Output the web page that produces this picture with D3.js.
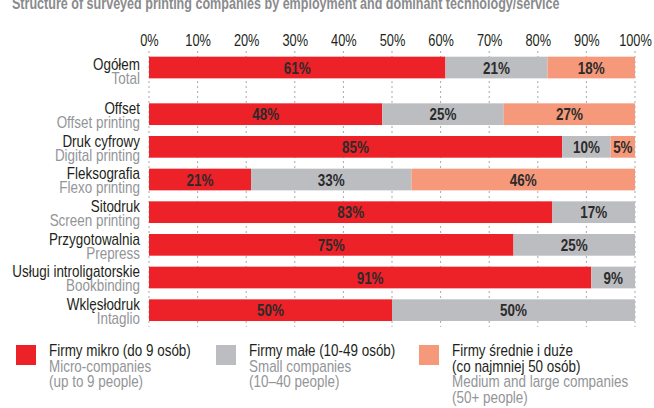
<!DOCTYPE html>
<html>
<head>
<meta charset="utf-8">
<script src="https://cdn.jsdelivr.net/npm/d3@7"></script>
<style>
  html, body { margin: 0; padding: 0; background: #fff; }
  svg { display: block; }
  text { font-family: "Liberation Sans", Arial, sans-serif; }
</style>
</head>
<body>
<svg id="chart" width="654" height="408"></svg>
<script>
// Structure of surveyed printing companies (share of firms, %)
const categoriesPl = ["Ogółem", "Offset", "Druk cyfrowy", "Fleksografia", "Sitodruk", "Przygotowalnia", "Usługi introligatorskie", "Wklęsłodruk"];
const categoriesEn = ["Total", "Offset printing", "Digital printing", "Flexo printing", "Screen printing", "Prepress", "Bookbinding", "Intaglio"];
const microValues  = [61, 48, 85, 21, 83, 75, 91, 50];
const smallValues  = [21, 25, 10, 33, 17, 25, 9, 50];
const largeValues  = [18, 27, 5, 46, 0, 0, 0, 0];
const tickValues   = [0, 10, 20, 30, 40, 50, 60, 70, 80, 90, 100];

const seriesKeys = ["micro", "small", "large"];
const seriesColors = ["#ED2128", "#BCBDC0", "#F6997A"];
const legendLines = [
  [{t: "Firmy mikro (do 9 osób)", dark: true}, {t: "Micro-companies"}, {t: "(up to 9 people)"}],
  [{t: "Firmy małe (10-49 osób)", dark: true}, {t: "Small companies"}, {t: "(10–40 people)"}],
  [{t: "Firmy średnie i duże", dark: true}, {t: "(co najmniej 50 osób)", dark: true}, {t: "Medium and large companies"}, {t: "(50+ people)"}]
];
const titleText = "Structure of surveyed printing companies by employment and dominant technology/service";

const rows = categoriesPl.map((pl, i) => ({
  pl, en: categoriesEn[i],
  micro: microValues[i], small: smallValues[i], large: largeValues[i]
}));

const svg = d3.select("#chart");
const darkText = "#231F20", greyText = "#939598";
// horizontally condensed lettering
const narrow = 0.84;
const place = (px, py, s = narrow) => `translate(${px},${py}) scale(${s},1)`;

// Title (partly above the top edge)
svg.append("text")
  .attr("transform", place(12, 9, 0.785))
  .attr("font-size", 16).attr("font-weight", "bold")
  .attr("fill", "#8A8B8D")
  .text(titleText);

const x = d3.scaleLinear().domain([0, 100]).range([149, 635]);
const y = d3.scaleBand().domain(categoriesPl).range([45.7, 318]).padding(0.336);
// extra space separating the "Total" row from the technology rows
const leadGap = 14;
const rowY = (d, i) => y(d.pl) + (i > 0 ? leadGap : 0);
// the two-line "Total" caption sits slightly lower against its bar
const captionY = (d, i) => rowY(d, i) + (i === 0 ? 3 : 0);

// Dashed vertical grid
svg.append("g").selectAll("line")
  .data(tickValues).join("line")
  .attr("x1", d => x(d)).attr("x2", d => x(d))
  .attr("y1", 51).attr("y2", 327)
  .attr("stroke", "#A7A9AC").attr("stroke-width", 1)
  .attr("stroke-dasharray", "2,3");

// Top axis labels
const axis = d3.axisTop(x).tickValues(tickValues).tickFormat(d => d + "%").tickSize(0).tickPadding(0);
const axisG = svg.append("g").attr("transform", "translate(0,45.5)").call(axis);
axisG.select(".domain").remove();
axisG.attr("font-family", null).attr("font-size", null);
axisG.selectAll("text")
  .attr("font-size", 16).attr("fill", darkText)
  .attr("y", null).attr("dy", null)
  .attr("transform", "scale(0.8,1)");

// Stacked bars
const stack = d3.stack().keys(seriesKeys)(rows);
const color = d3.scaleOrdinal().domain(seriesKeys).range(seriesColors);

const layers = svg.append("g").selectAll("g")
  .data(stack).join("g")
  .attr("fill", d => color(d.key));

layers.selectAll("rect")
  .data(d => d.map((s, i) => ({s, i, row: rows[i], key: d.key})))
  .join("rect")
  .filter(d => d.s[1] - d.s[0] > 0)
  .attr("x", d => x(d.s[0]))
  .attr("width", d => x(d.s[1]) - x(d.s[0]))
  .attr("y", d => rowY(d.row, d.i))
  .attr("height", y.bandwidth());

// Value labels in segment centres
const segs = stack.flatMap(layer => layer.map((s, i) => ({s, i, row: rows[i], v: s[1] - s[0]})))
  .filter(d => d.v > 0);
svg.append("g").selectAll("text")
  .data(segs).join("text")
  .attr("transform", d => place(x((d.s[0] + d.s[1]) / 2), rowY(d.row, d.i) + y.bandwidth() / 2 + 6))
  .attr("text-anchor", "middle")
  .attr("font-size", 16).attr("font-weight", "bold")
  .attr("fill", "#2B2B2B")
  .text(d => d.v + "%");

// Category labels (Polish / English)
const catG = svg.append("g").selectAll("g").data(rows).join("g");
catG.append("text")
  .attr("transform", (d, i) => place(140, captionY(d, i) + 10.5))
  .attr("text-anchor", "end").attr("font-size", 16).attr("fill", darkText)
  .text(d => d.pl);
catG.append("text")
  .attr("transform", (d, i) => place(140, captionY(d, i) + 24.5))
  .attr("text-anchor", "end").attr("font-size", 16).attr("fill", greyText)
  .text(d => d.en);

// Legend
const legendX = [16, 216, 419];
const legend = svg.append("g").selectAll("g")
  .data(seriesKeys).join("g")
  .attr("transform", (d, i) => `translate(${legendX[i]},345)`);
legend.append("rect")
  .attr("width", 20).attr("height", 20)
  .attr("fill", d => color(d));
legend.each(function(d, i) {
  d3.select(this).selectAll("text")
    .data(legendLines[i]).join("text")
    .attr("transform", (l, j) => place(33, 11 + j * 15.6))
    .attr("font-size", 16)
    .attr("fill", l => l.dark ? darkText : greyText)
    .text(l => l.t);
});
</script>
</body>
</html>
